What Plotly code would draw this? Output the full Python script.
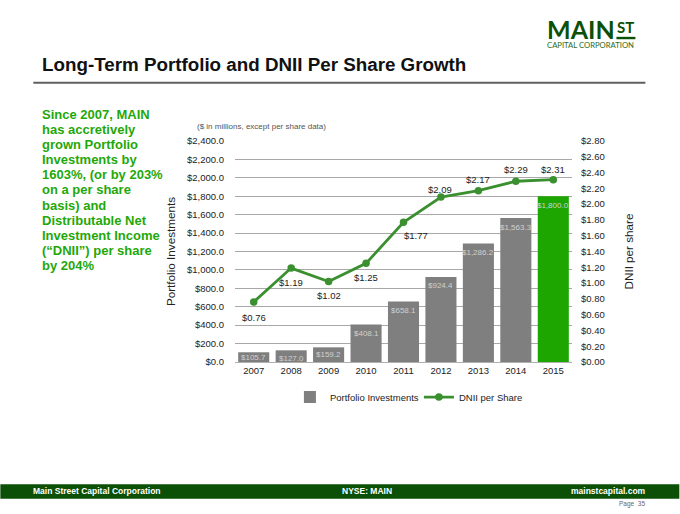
import plotly.graph_objects as go

years = ["2007", "2008", "2009", "2010", "2011", "2012", "2013", "2014", "2015"]
portfolio = [105.7, 127.0, 159.2, 408.1, 658.1, 924.4, 1286.2, 1563.3, 1800.0]
dnii = [0.76, 1.19, 1.02, 1.25, 1.77, 2.09, 2.17, 2.29, 2.31]
left_ticks = [i * 200 for i in range(13)]
right_ticks = [i * 0.2 for i in range(15)]
side_lines = ["Since 2007, MAIN", "has accretively", "grown Portfolio", "Investments by",
              "1603%, (or by 203%", "on a per share", "basis) and", "Distributable Net",
              "Investment Income", "(“DNII”) per share", "by 204%"]

W, H = 680, 514
L, R, T, B = 235, 572.5, 141, 362.5
GREEN = "#1fa80a"
DARK = "#0c4f06"
FONT = "Liberation Sans, Arial, sans-serif"
bar_label_shift = [-5.5, -8, -7, -9, -9, -9, -9, -9, -9.5]
line_label_shift = [(0, -15.5), (0, -14), (0, -14), (0, -14), (12, -13), (-1, 8), (0, 11), (0, 12), (0, 10)]

def px(x): return (x - L) / (R - L)
def py(y): return (B - y) / (B - T)

def note(x, y, text, size, color, bold=False, anchor="left", angle=0, family=FONT):
    return dict(x=px(x), y=py(y), xref="paper", yref="paper", text=f"<b>{text}</b>" if bold else text,
                showarrow=False, xanchor=anchor, yanchor="middle", textangle=angle,
                font=dict(size=size, color=color, family=family))

fig = go.Figure()
fig.add_bar(x=years, y=portfolio, name="Portfolio Investments",
            marker=dict(color=["#7f7f7f"] * 8 + ["#1ea600"], line=dict(width=0)), yaxis="y")
fig.add_scatter(x=years, y=dnii, name="DNII per Share", mode="lines+markers",
                line=dict(color="#3a8f2f", width=2.8), marker=dict(size=7.5, color="#3a8f2f"), yaxis="y2")

anns = [note(39.5, 64, "Long-Term Portfolio and DNII Per Share Growth", 18.8, "#111", True),
        note(195, 126, "($ in millions, except per share data)", 8, "#555"),
        note(30.5, 492, "Main Street Capital Corporation", 8.5, "#fff", True),
        note(366.7, 492, "NYSE: MAIN", 8.5, "#fff", True, anchor="center"),
        note(649, 492, "mainstcapital.com", 8.5, "#fff", True, anchor="right"),
        note(647.5, 504.5, "Page  35", 6.5, "#666", anchor="right"),
        note(545, 28.5, "MAIN", 25, DARK, True, family="Lato, sans-serif"),
        note(626.5, 26.5, "ST", 15, DARK, True, family="Lato, sans-serif", anchor="center"),
        note(545, 45, "CAPITAL CORPORATION", 7.7, "#2c6b26", family="Lato, sans-serif")]
for i, line in enumerate(side_lines):
    anns.append(note(40, 114 + i * 15.2, line, 13, GREEN, True))
for i, (v, dy) in enumerate(zip(portfolio, bar_label_shift)):
    anns.append(dict(x=i, y=v, xref="x", yref="y", text=f"${v:,.1f}", showarrow=False, yshift=dy,
                     yanchor="middle", font=dict(size=8, color="#d0d0d0", family=FONT)))
for i, (v, (dx, dy)) in enumerate(zip(dnii, line_label_shift)):
    anns.append(dict(x=i, y=v, xref="x", yref="y2", text=f"${v:.2f}", showarrow=False, xshift=dx, yshift=dy,
                     yanchor="middle", font=dict(size=9.5, color="#222", family=FONT)))

shapes = [dict(type="rect", xref="paper", yref="paper", x0=px(0), x1=px(W), y0=py(485), y1=py(499.5),
               fillcolor=DARK, line_width=0, layer="below"),
          dict(type="line", xref="paper", yref="paper", x0=px(33), x1=px(646), y0=py(82.7), y1=py(82.7),
               line=dict(color="#5f5f5f", width=2)),
          dict(type="rect", xref="paper", yref="paper", x0=px(617), x1=px(636), y0=py(39), y1=py(36.6),
               fillcolor=DARK, line_width=0)]

fig.update_layout(
    width=W, height=H, margin=dict(l=L, r=W - R, t=T, b=H - B, autoexpand=False),
    paper_bgcolor="#fff", plot_bgcolor="#fff", bargap=0.17,
    font=dict(family=FONT, size=9.5, color="#222"),
    showlegend=True,
    legend=dict(orientation="h", x=px(290), xanchor="left", y=py(397.7), yanchor="middle",
                entrywidth=84, entrywidthmode="pixels",
                font=dict(size=9.5, color="#222"), bgcolor="rgba(0,0,0,0)"),
    xaxis=dict(type="category", range=[-0.5, 8.5], showgrid=False, showline=True, linecolor="#b0b0b0",
               linewidth=1, ticks="", tickfont=dict(size=9.5)),
    yaxis=dict(range=[0, 2400], tickmode="array", tickvals=left_ticks,
               ticktext=[f"${v:,.1f}" for v in left_ticks], showgrid=True, gridcolor="#a8a8a8",
               gridwidth=1.2, zeroline=False, ticks="", ticklabelstandoff=10, tickfont=dict(size=9.5),
               title=dict(text="Portfolio Investments", font=dict(size=11.7, color="#222"), standoff=8)),
    yaxis2=dict(range=[0, 2.8], overlaying="y", side="right", tickmode="array", tickvals=right_ticks,
                ticktext=[f"${v:.2f}" for v in right_ticks], showgrid=False, zeroline=False, ticks="",
                ticklabelstandoff=8, tickfont=dict(size=9.5),
                title=dict(text="DNII per share", font=dict(size=11.7, color="#222"), standoff=21)),
    annotations=anns, shapes=shapes,
)
fig.write_html("out.html", config={"displayModeBar": False}, post_script="document.body.style.margin='0';")
